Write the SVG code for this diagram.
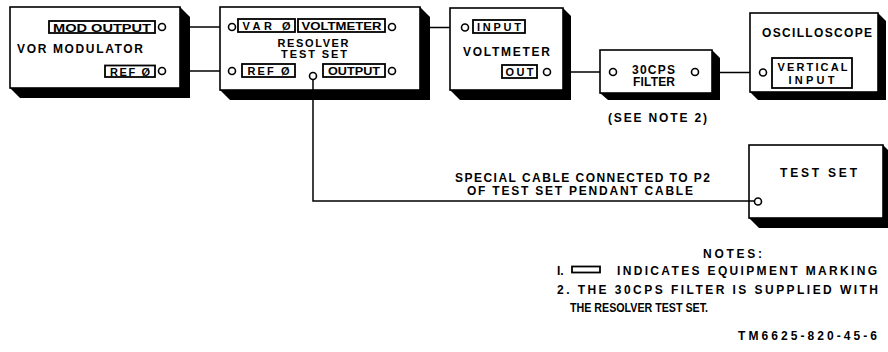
<svg xmlns="http://www.w3.org/2000/svg" width="888" height="352" viewBox="0 0 888 352">
<style>
text{font-family:"Liberation Sans",Arial,sans-serif;font-weight:bold;fill:#000}
.t{font-size:12px}
.l{font-size:11px}
.face{fill:#fff;stroke:#000;stroke-width:1.6}
.shadow{fill:#000}
.mark{fill:#fff;stroke:#000;stroke-width:1.8}
.port{fill:#fff;stroke:#000;stroke-width:1.6}
.wire{fill:none;stroke:#000;stroke-width:1.5}
</style>
<rect width="888" height="352" fill="#fff"/>
<g id="connectors">
<line class="wire" x1="165.5" y1="27" x2="228.5" y2="27"/>
<line class="wire" x1="165.5" y1="71" x2="228.5" y2="71"/>
<line class="wire" x1="395.5" y1="27.5" x2="461.5" y2="27.5"/>
<line class="wire" x1="550.5" y1="72" x2="609.5" y2="72"/>
<line class="wire" x1="698.5" y1="72.5" x2="759.5" y2="72.5"/>
</g>
<g id="vor-modulator">
<polygon class="shadow" points="180,7 190,17 190,98 20,98 10,88"/>
<rect class="face" x="10" y="7" width="170" height="81"/>
<rect class="mark" x="49" y="21" width="106" height="12"/>
<text class="l" x="102" y="31.5" text-anchor="middle" textLength="98" lengthAdjust="spacingAndGlyphs">MOD OUTPUT</text>
<text class="t" x="17" y="52.5" textLength="126" lengthAdjust="spacing">VOR MODULATOR</text>
<rect class="mark" x="105" y="65.5" width="50" height="11.5"/>
<text class="l" x="130" y="75.5" text-anchor="middle" textLength="40" lengthAdjust="spacing">REF Ø</text>
<circle class="port" cx="162" cy="27" r="3.5"/>
<circle class="port" cx="162" cy="71" r="3.5"/>
</g>
<g id="resolver-test-set">
<polygon class="shadow" points="420,7 430,17 430,100 230,100 220,90"/>
<rect class="face" x="220" y="7" width="200" height="83"/>
<rect class="mark" x="238" y="19" width="57" height="13"/>
<text class="l" x="266.5" y="30" text-anchor="middle" textLength="48" lengthAdjust="spacing">VAR Ø</text>
<rect class="mark" x="298" y="19" width="87" height="13"/>
<text class="l" x="341.5" y="30" text-anchor="middle" textLength="80" lengthAdjust="spacingAndGlyphs">VOLTMETER</text>
<text class="l" x="313" y="46.5" text-anchor="middle" textLength="71" lengthAdjust="spacing">RESOLVER</text>
<text class="l" x="314" y="57.5" text-anchor="middle" textLength="66" lengthAdjust="spacing">TEST SET</text>
<rect class="mark" x="242" y="64" width="53" height="13"/>
<text class="l" x="268.5" y="75" text-anchor="middle" textLength="42" lengthAdjust="spacing">REF Ø</text>
<rect class="mark" x="323" y="64" width="62" height="13"/>
<text class="l" x="354" y="75" text-anchor="middle" textLength="52" lengthAdjust="spacingAndGlyphs">OUTPUT</text>
<circle class="port" cx="232" cy="27" r="3.5"/>
<circle class="port" cx="392" cy="27" r="3.5"/>
<circle class="port" cx="232" cy="71" r="3.5"/>
<circle class="port" cx="392" cy="71" r="3.5"/>
</g>
<g id="voltmeter">
<polygon class="shadow" points="563,8 571,16 571,100 460,100 450,90"/>
<rect class="face" x="450" y="8" width="113" height="82"/>
<rect class="mark" x="473" y="20" width="52" height="13"/>
<text class="l" x="499" y="31" text-anchor="middle" textLength="44" lengthAdjust="spacing">INPUT</text>
<text class="t" x="506.5" y="55.5" text-anchor="middle" textLength="87" lengthAdjust="spacing">VOLTMETER</text>
<rect class="mark" x="502" y="65" width="35" height="13"/>
<text class="l" x="519.5" y="76" text-anchor="middle" textLength="28" lengthAdjust="spacing">OUT</text>
<circle class="port" cx="465" cy="27.5" r="3.5"/>
<circle class="port" cx="547" cy="72" r="3.5"/>
</g>
<g id="filter">
<polygon class="shadow" points="712,50 720,58 720,100 608,100 600,93"/>
<rect class="face" x="600" y="50" width="112" height="43"/>
<text class="t" x="653.5" y="73.5" text-anchor="middle" textLength="43" lengthAdjust="spacing">30CPS</text>
<text class="t" x="654" y="86" text-anchor="middle" textLength="42" lengthAdjust="spacing">FILTER</text>
<circle class="port" cx="613" cy="72" r="3.5"/>
<circle class="port" cx="695" cy="72" r="3.5"/>
<text class="t" x="657.5" y="122" text-anchor="middle" textLength="99" lengthAdjust="spacing">(SEE NOTE 2)</text>
</g>
<g id="oscilloscope">
<polygon class="shadow" points="878,13 886,21 886,100 758,100 750,92"/>
<rect class="face" x="750" y="13" width="128" height="79"/>
<text class="t" x="817" y="37" text-anchor="middle" textLength="110" lengthAdjust="spacing">OSCILLOSCOPE</text>
<rect class="mark" x="772" y="58" width="80" height="30"/>
<text class="l" x="812.5" y="70.5" text-anchor="middle" textLength="70" lengthAdjust="spacing">VERTICAL</text>
<text class="l" x="811.5" y="83.5" text-anchor="middle" textLength="46" lengthAdjust="spacing">INPUT</text>
<circle class="port" cx="763" cy="72.5" r="3.5"/>
</g>
<g id="test-set">
<polygon class="shadow" points="883,145 888,150 888,228 759,228 749,218"/>
<rect class="face" x="749" y="145" width="134" height="73"/>
<text class="t" x="818.5" y="177" text-anchor="middle" textLength="77" lengthAdjust="spacing">TEST SET</text>
</g>
<g id="cable">
<path class="wire" d="M313,79.5 V201 H754.5"/>
<circle class="port" cx="313" cy="76" r="3.5"/>
<circle class="port" cx="758" cy="201.5" r="3.5"/>
<text class="t" x="582.5" y="182" text-anchor="middle" textLength="255" lengthAdjust="spacing">SPECIAL CABLE CONNECTED TO P2</text>
<text class="t" x="580" y="195" text-anchor="middle" textLength="226" lengthAdjust="spacing">OF TEST SET PENDANT CABLE</text>
</g>
<g id="notes">
<text class="t" x="703" y="258" textLength="59" lengthAdjust="spacing">NOTES:</text>
<text class="t" x="557" y="275">I.</text>
<rect class="mark" x="572" y="266.5" width="28" height="6"/>
<text class="t" x="617" y="275" textLength="260" lengthAdjust="spacing">INDICATES EQUIPMENT MARKING</text>
<text class="t" x="557" y="293.5" textLength="321" lengthAdjust="spacing">2. THE 30CPS FILTER IS SUPPLIED WITH</text>
<text class="t" x="570" y="312" textLength="138" lengthAdjust="spacingAndGlyphs">THE RESOLVER TEST SET.</text>
<text class="t" x="738" y="340" textLength="139" lengthAdjust="spacing">TM6625-820-45-6</text>
</g>
</svg>
